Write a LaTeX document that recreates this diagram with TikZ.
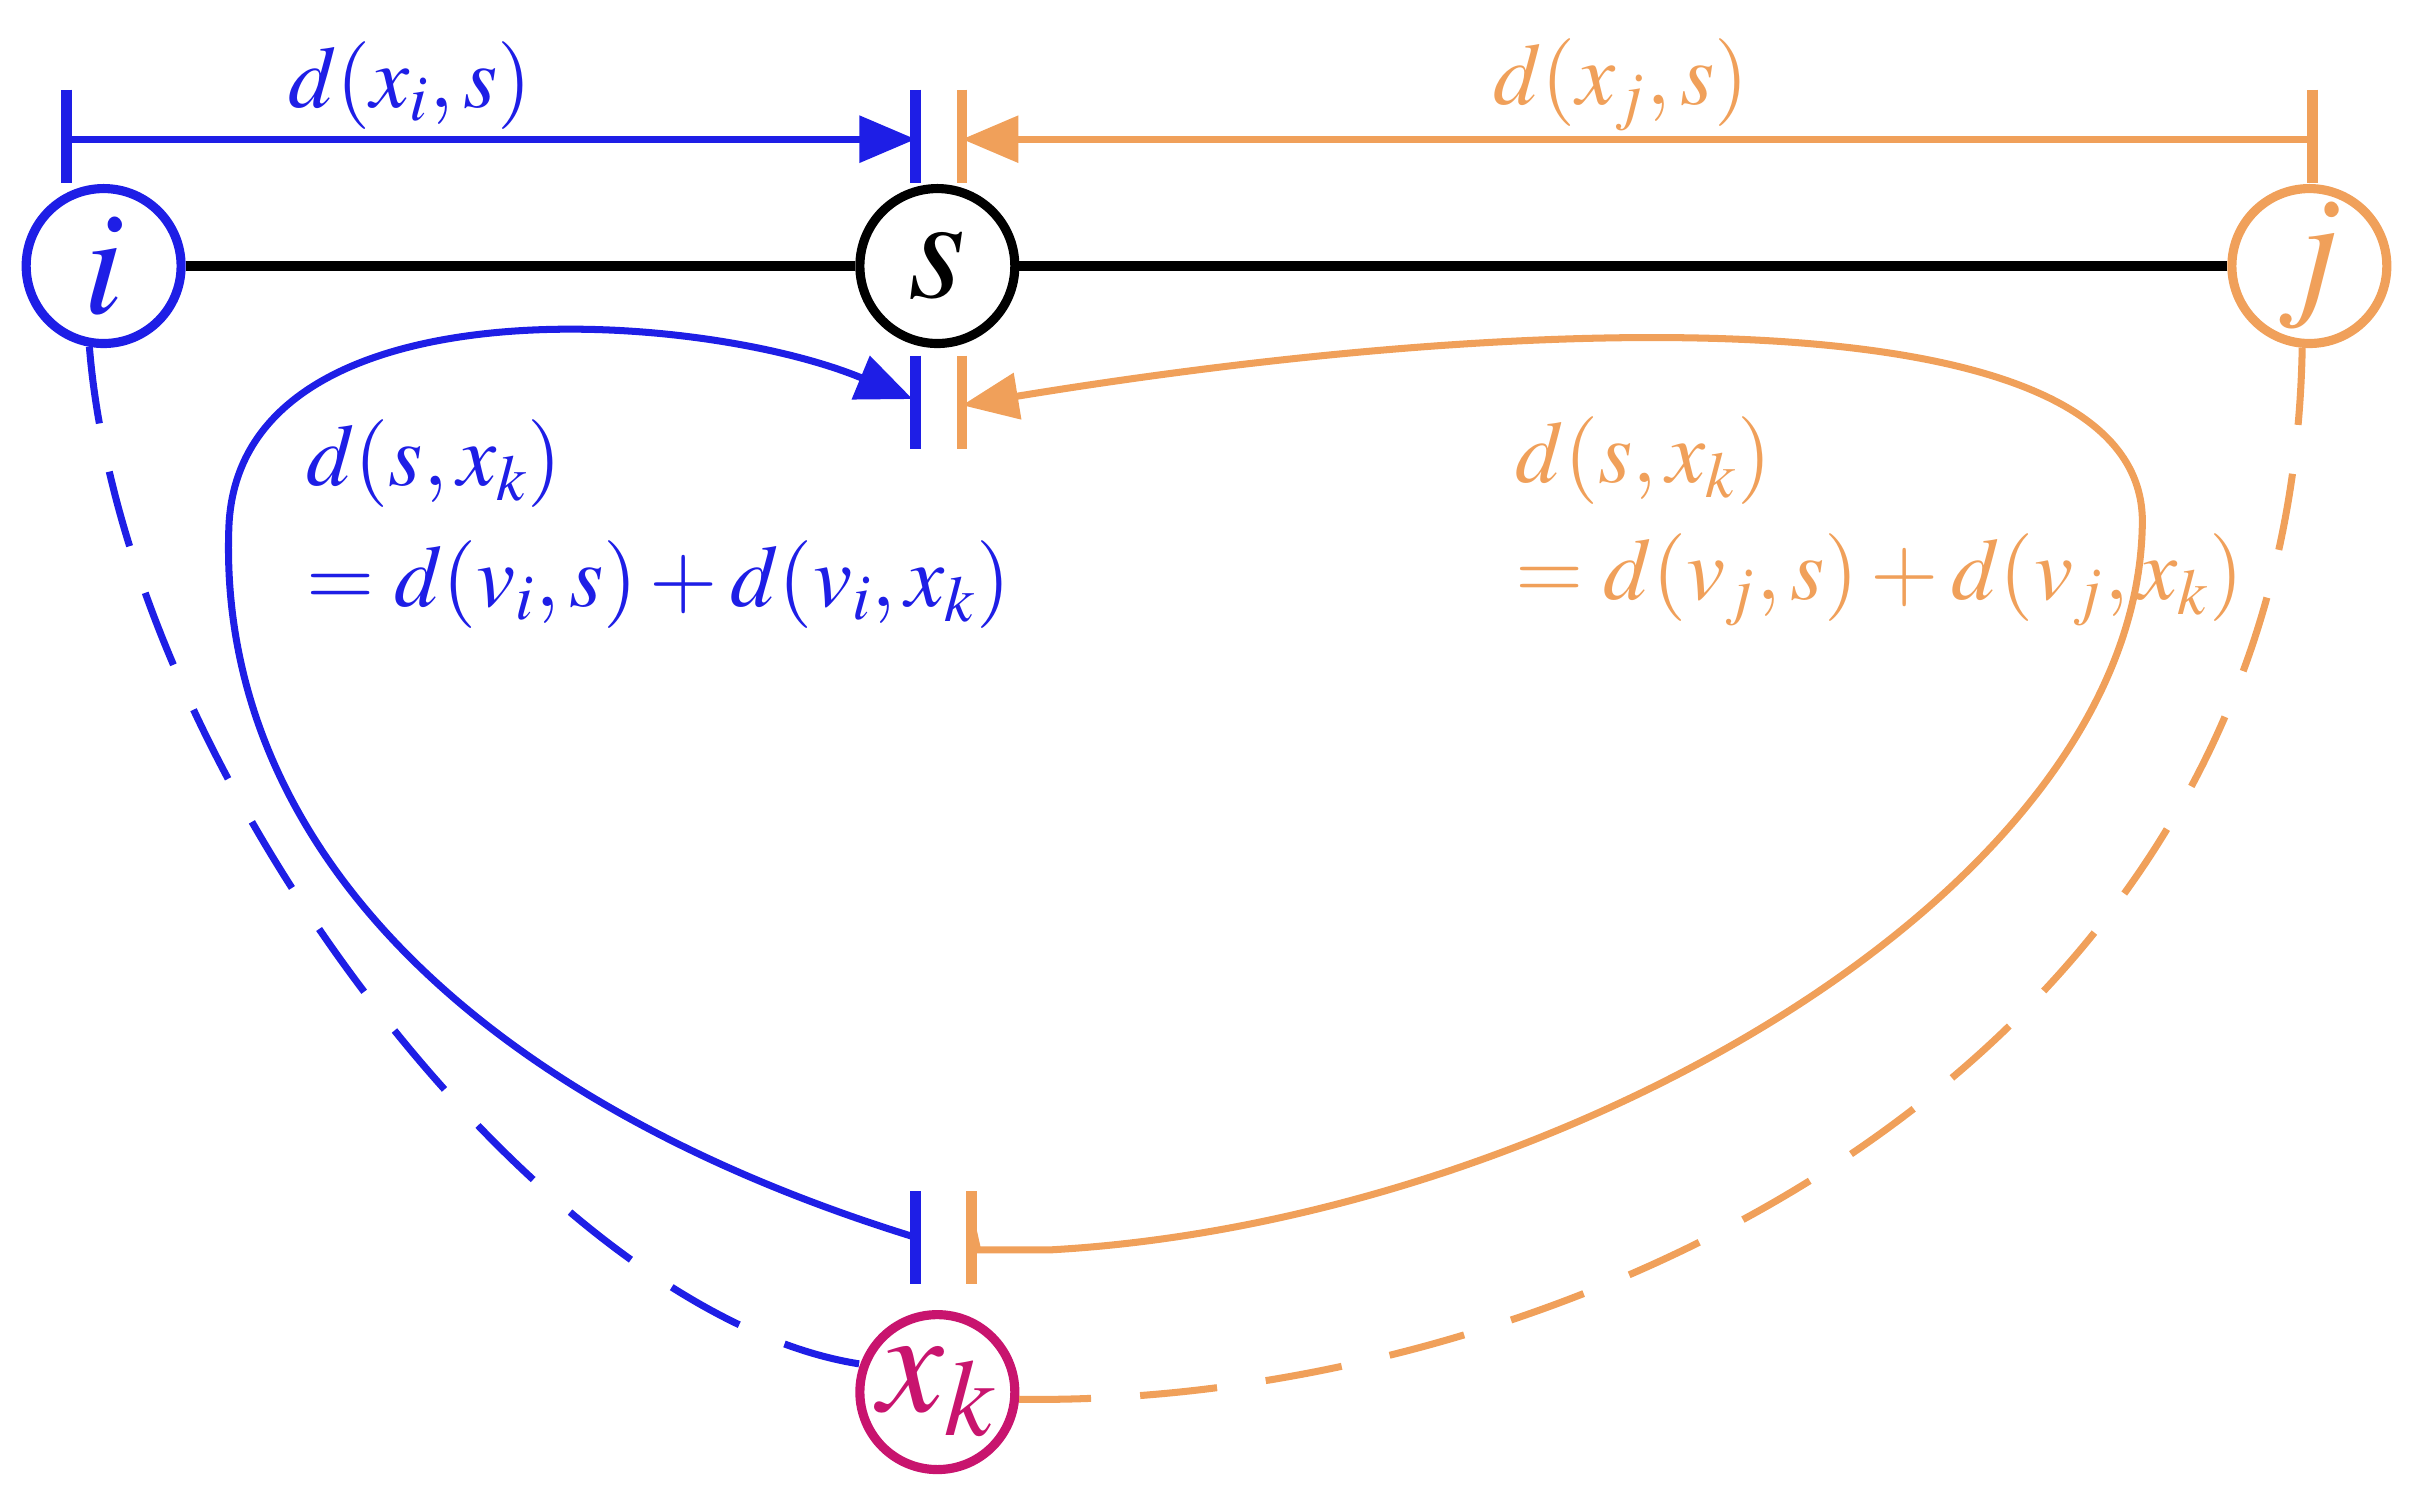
\documentclass[tikz,border=0pt]{standalone}
\usepackage{mathptmx}
\usetikzlibrary{arrows.meta}
\definecolor{bl}{RGB}{30,30,230}
\definecolor{or}{RGB}{240,160,90}
\definecolor{mg}{RGB}{200,20,110}
\begin{document}
\begin{tikzpicture}[x=0.01547cm,y=-0.01547cm,
  vtx/.style={circle,draw,line width=2.6pt,minimum size=1.55cm,inner sep=0pt,font=\fontsize{42}{48}\selectfont,fill=white},
  lbl/.style={font=\fontsize{25}{30}\selectfont},
  tip/.style={-{Triangle[length=16pt,width=13pt]}},
  ln/.style={line width=2pt}]
\useasboundingbox (0,0) rectangle (1560,973);
\node[vtx,draw=bl,text=bl] (i) at (67,172) {$i$};
\node[vtx,draw=black] (s) at (606,172) {$s$};
\node[vtx,draw=or,text=or] (j) at (1493,172) {$j$};
\node[vtx,draw=mg,text=mg] (xk) at (606,900) {$x_k$};
\draw[line width=3pt] (i) -- (s) (s) -- (j);
\coordinate (bt1) at (43,58); \coordinate (bt2) at (43,118);
\coordinate (bs1) at (592,58); \coordinate (bs2) at (592,118);
\coordinate (ot1) at (622,58); \coordinate (ot2) at (622,118);
\coordinate (oj1) at (1495,58); \coordinate (oj2) at (1495,118);
\coordinate (bl) at (43,90); \coordinate (br) at (592,90);
\coordinate (ol) at (622,90); \coordinate (orr) at (1495,90);
\coordinate (sb1) at (592,230); \coordinate (sb2) at (592,290);
\coordinate (so1) at (622,230); \coordinate (so2) at (622,290);
\coordinate (xb1) at (592,770); \coordinate (xb2) at (592,830);
\coordinate (xo1) at (628,770); \coordinate (xo2) at (628,830);
\begin{scope}[bl,ln]
\draw[line width=3pt] (bt1) -- (bt2) (bs1) -- (bs2) (sb1) -- (sb2) (xb1) -- (xb2);
\draw[tip] (bl) -- (br);
\draw[tip] (592,800) .. controls (300,710) and (140,540) .. (148,340) .. controls (155,180) and (450,200) .. (590,258);
\draw[dashed,dash pattern=on 22pt off 14pt] (i.-100) .. controls (80,500) and (350,850) .. (xk.160);
\end{scope}
\begin{scope}[or,ln]
\draw[line width=3pt] (ot1) -- (ot2) (oj1) -- (oj2) (so1) -- (so2) (xo1) -- (xo2);
\draw[tip] (orr) -- (ol);
\draw[tip] (628,790) -- (632,808) -- (680,808) .. controls (1000,790) and (1380,580) .. (1385,340) .. controls (1390,190) and (1000,200) .. (622,262);
\draw[dashed,dash pattern=on 22pt off 14pt] (j.-95) .. controls (1480,700) and (1000,910) .. (xk.-5);
\end{scope}
\node[lbl,bl] (l1) at (265,55) {$d(x_i,s)$};
\node[lbl,or] (l2) at (1048,55) {$d(x_j,s)$};
\node[lbl,bl,anchor=west] (l3) at (190,300) {$d(s,x_k)$};
\node[lbl,bl,anchor=west] (l4) at (190,378) {$=d(v_i,s)+d(v_i,x_k)$};
\node[lbl,or,anchor=west] (l5) at (972,298) {$d(s,x_k)$};
\node[lbl,or,anchor=west] (l6) at (972,375) {$=d(v_j,s)+d(v_j,x_k)$};
\end{tikzpicture}
\end{document}
